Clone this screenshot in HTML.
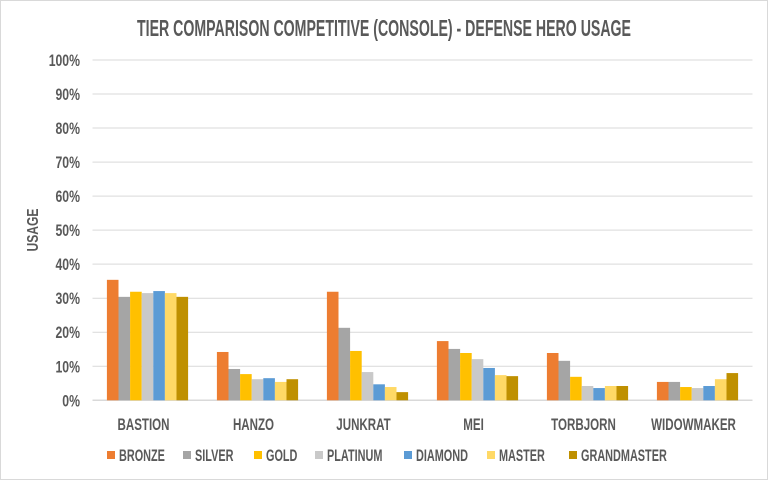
<!DOCTYPE html>
<html><head><meta charset="utf-8"><style>
html,body{margin:0;padding:0;background:#fff}
svg{display:block}
text{font-family:"Liberation Sans Narrow","Liberation Sans",sans-serif;fill:#595959;font-weight:bold}
</style></head><body>
<svg id="chart" width="768" height="480">
<rect x="0.5" y="0.5" width="767" height="479" fill="#fff" stroke="#d9d9d9"/>
<text x="384" y="36" text-anchor="middle" font-size="23" textLength="494" lengthAdjust="spacingAndGlyphs">TIER COMPARISON COMPETITIVE (CONSOLE) - DEFENSE HERO USAGE</text>
<text transform="translate(38,230) rotate(-90)" text-anchor="middle" font-size="16" textLength="43" lengthAdjust="spacingAndGlyphs">USAGE</text>
<g id="grid"></g><g id="bars"></g><g id="xl"></g><g id="legend"></g>
</svg>
<script>
const categories=["BASTION","HANZO","JUNKRAT","MEI","TORBJORN","WIDOWMAKER"];
const seriesNames=["BRONZE","SILVER","GOLD","PLATINUM","DIAMOND","MASTER","GRANDMASTER"];
const bronze=[35.4,14.2,31.9,17.4,13.9,5.4];
const silver=[30.4,9.2,21.3,15.1,11.6,5.4];
const gold=[31.9,7.7,14.5,13.9,6.9,3.9];
const platinum=[31.5,6.2,8.3,12.1,4.2,3.6];
const diamond=[32.1,6.5,4.7,9.5,3.6,4.2];
const master=[31.5,5.4,3.9,7.4,4.2,6.2];
const grandmaster=[30.4,6.2,2.4,7.1,4.2,8.0];
const yTicks=[0,10,20,30,40,50,60,70,80,90,100];
const series=[bronze,silver,gold,platinum,diamond,master,grandmaster];
const colors=["#ed7d31","#a5a5a5","#ffc000","#c9c9c9","#5b9bd5","#ffd966","#bf9000"];
const NS="http://www.w3.org/2000/svg";
const x0=92.5,x1=752.5,y0=400.3,y100=60;
const y=v=>y0-(v/100)*(y0-y100);
const bw=(x1-x0)/categories.length;
const barW=11.6;
function mk(tag,attrs,parent,txt){const e=document.createElementNS(NS,tag);for(const k in attrs)e.setAttribute(k,attrs[k]);if(txt!==undefined)e.textContent=txt;document.getElementById(parent).appendChild(e);return e;}
function cond(t,f){const w=t.getComputedTextLength();t.setAttribute("textLength",(w*f).toFixed(1));t.setAttribute("lengthAdjust","spacingAndGlyphs");}
yTicks.forEach(t=>{
  const l=mk("line",{x1:x0,x2:x1,y1:y(t),y2:y(t),stroke:"#d9d9d9","stroke-width":t===0?1.5:1},"grid");
  
  
  const tx=mk("text",{x:80,y:y(t)+6,"text-anchor":"end","font-size":17},"grid",t+"%");
  
  
  cond(tx,0.72);
});
categories.forEach((c,i)=>{
  const cx=x0+bw*(i+0.5);
  series.forEach((s,j)=>{
    const bx=cx-barW*series.length/2+barW*j;
    const r=mk("rect",{x:bx,y:y(s[i]),width:barW,height:y0-y(s[i]),fill:colors[j]},"bars");
    
    
  });
  const t=mk("text",{x:cx-4,y:430,"text-anchor":"middle","font-size":17},"xl",c);
  
  
  cond(t,0.68);
});
const legX=[107,183,254,315,404,487,569];
seriesNames.forEach((n,j)=>{
  const r=mk("rect",{x:legX[j],y:451,width:8,height:8,fill:colors[j]},"legend");
  
  
  const t=mk("text",{x:legX[j]+12,y:461,"font-size":17},"legend",n);
  
  
  cond(t,0.64);
});
</script>
</body></html>
